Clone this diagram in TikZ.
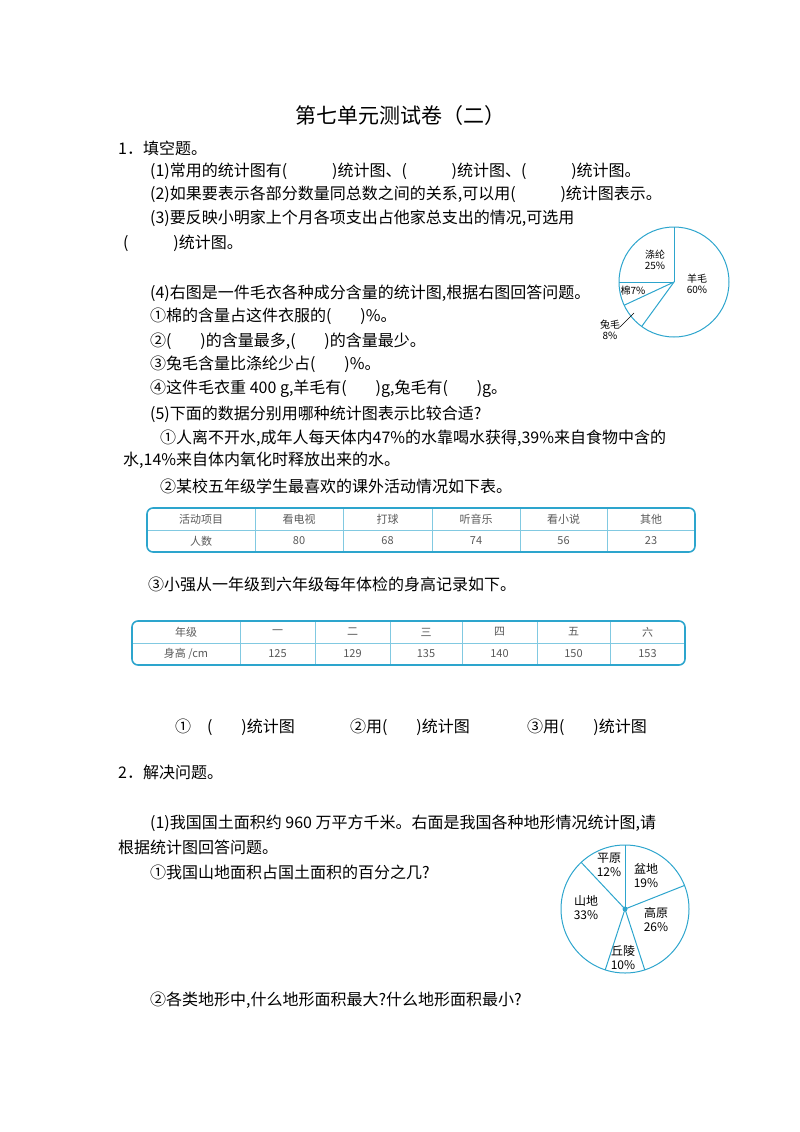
\documentclass[tikz,border=0pt]{standalone}
\usepackage{fontspec}
\setmainfont{Noto Sans CJK SC}
\definecolor{pblue}{RGB}{45,165,205}
\begin{document}
\begin{tikzpicture}[x=1pt,y=-1pt,
  t/.style={anchor=west,inner sep=0pt,font=\fontsize{16}{18}\selectfont},
  pl/.style={font=\fontsize{10}{11}\selectfont,align=center,inner sep=0pt},
  pl2/.style={font=\fontsize{12}{14}\selectfont,align=center,inner sep=0pt},
  tc/.style={font=\fontsize{11}{12}\selectfont,text=black!65,inner sep=0pt},
  blu/.style={draw=pblue,line width=1.6pt,rounded corners=6pt},
  inl/.style={draw=pblue!60,line width=0.5pt},
  pie/.style={draw=pblue,line width=1pt}]
\useasboundingbox (0,0) rectangle (800,1132);
\newcommand{\bl}{\hspace{2.8em}}
\newcommand{\bs}{\hspace{1.8em}}
\node[font=\fontsize{21}{24}\selectfont] (title) at (400,116) {第七单元测试卷（二）};
\node[t] (s1) at (118,148) {1．填空题。};
\node[t] (a1) at (150,171) {(1)常用的统计图有(\bl)统计图、(\bl)统计图、(\bl)统计图。};
\node[t] (a2) at (150,194) {(2)如果要表示各部分数量同总数之间的关系,可以用(\bl)统计图表示。};
\node[t] (a3) at (150,218) {(3)要反映小明家上个月各项支出占他家总支出的情况,可选用};
\node[t] (a3b) at (123,243) {(\bl)统计图。};
\node[t] (a4) at (150,293) {(4)右图是一件毛衣各种成分含量的统计图,根据右图回答问题。};
\node[t] (a41) at (150,316) {①棉的含量占这件衣服的(\bs)\%。};
\node[t] (a42) at (150,341) {②(\bs)的含量最多,(\bs)的含量最少。};
\node[t] (a43) at (150,364) {③兔毛含量比涤纶少占(\bs)\%。};
\node[t] (a44) at (150,389) {④这件毛衣重 400 g,羊毛有(\bs)g,兔毛有(\bs)g。};
\node[t] (a5) at (150,414) {(5)下面的数据分别用哪种统计图表示比较合适?};
\node[t] (a51) at (160,438) {①人离不开水,成年人每天体内47\%的水靠喝水获得,39\%来自食物中含的};
\node[t] (a51b) at (123,460) {水,14\%来自体内氧化时释放出来的水。};
\node[t] (a52) at (160,486) {②某校五年级学生最喜欢的课外活动情况如下表。};
\node[t] (a53) at (148,584) {③小强从一年级到六年级每年体检的身高记录如下。};
\node[t] (b1) at (175,727) {①\hspace{1em}(\bs)统计图};
\node[t] (b2) at (350,727) {②用(\bs)统计图};
\node[t] (b3) at (527,727) {③用(\bs)统计图};
\node[t] (s2) at (118,772) {2．解决问题。};
\node[t] (c1) at (150,823) {(1)我国国土面积约 960 万平方千米。右面是我国各种地形情况统计图,请};
\node[t] (c1b) at (118,847) {根据统计图回答问题。};
\node[t] (c11) at (150,872) {①我国山地面积占国土面积的百分之几?};
\node[t] (c12) at (150,1000) {②各类地形中,什么地形面积最大?什么地形面积最小?};
% table 1
\foreach \x in {255,343,432,520,607} \draw[inl] (\x,508) -- (\x,552);
\draw[inl] (147,530) -- (695,530);
\draw[blu] (147,508) rectangle (695,552);
\foreach \a/\b/\h/\v in {147/255/活动项目/人数,255/343/看电视/80,343/432/打球/68,432/520/听音乐/74,520/607/看小说/56,607/695/其他/23}{
  \node[tc] at ({(\a+\b)/2},519) {\h};
  \node[tc] at ({(\a+\b)/2},541) {\v};}
% table 2
\foreach \x in {240,315,390,462,537,610} \draw[inl] (\x,621) -- (\x,665);
\draw[inl] (132,643) -- (685,643);
\draw[blu] (132,621) rectangle (685,665);
\foreach \a/\b/\h/\v in {132/240/年级/{身高 /cm},240/315/一/125,315/390/二/129,390/462/三/135,462/537/四/140,537/610/五/150,610/685/六/153}{
  \node[tc] at ({(\a+\b)/2},632) {\h};
  \node[tc] at ({(\a+\b)/2},654) {\v};}
% pie 1
\coordinate (p1) at (674,282);
\draw[pie] (p1) circle (55);
\foreach \ang in {90,234,205,180} \draw[pie] (p1) -- ++({55*cos(\ang)},{-55*sin(\ang)});
\node[pl] at (655,260) {涤纶\\25\%};
\node[pl] at (697,284) {羊毛\\60\%};
\node[pl] at (633,291) {棉7\%};
\node[pl] at (610,330) {兔毛\\8\%};
\draw[line width=0.6pt] (620,327) -- (634,313);
% pie 2
\coordinate (p2) at (625,909);
\draw[pie] (p2) circle (64);
\foreach \ang in {90,21.6,-72,-108,133.2} \draw[pie] (p2) -- ++({64*cos(\ang)},{-64*sin(\ang)});
\fill[pblue] (p2) circle (2.5);
\node[pl2] at (609,865) {平原\\12\%};
\node[pl2] at (646,876) {盆地\\19\%};
\node[pl2] at (656,920) {高原\\26\%};
\node[pl2] at (623,958) {丘陵\\10\%};
\node[pl2] at (586,908) {山地\\33\%};
\end{tikzpicture}
\end{document}
